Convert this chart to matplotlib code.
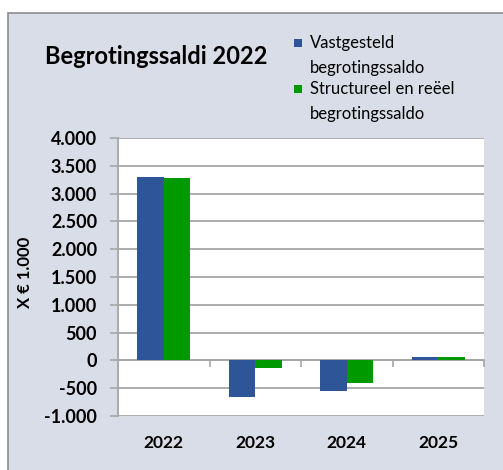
import matplotlib
matplotlib.use("Agg")
from matplotlib import pyplot as plt
from matplotlib.patches import Rectangle
import numpy as np

years = ["2022", "2023", "2024", "2025"]
vastgesteld = [3300, -665, -550, 65]
structureel = [3285, -130, -415, 65]
series_labels = ["Vastgesteld\nbegrotingssaldo", "Structureel en reëel\nbegrotingssaldo"]
yticks = [-1000, -500, 0, 500, 1000, 1500, 2000, 2500, 3000, 3500, 4000]
ytick_labels = ["-1.000", "-500", "0", "500", "1.000", "1.500", "2.000",
                "2.500", "3.000", "3.500", "4.000"]

plt.rcParams["font.family"] = ["Lato", "DejaVu Sans"]

BLUE = "#2E5597"
GREEN = "#009A00"
BG = "#D8DDE7"
GRID = "#A6A6A6"

fig = plt.figure(figsize=(5.03, 4.70), dpi=100, facecolor="white")

# chart area with gray border
fig.patches.append(Rectangle((8 / 503, -0.05), 1.1, 1 - 13 / 470 + 0.05,
                             transform=fig.transFigure, facecolor=BG,
                             edgecolor="#8C8C8C", linewidth=1.2, zorder=-5))

ax = fig.add_axes([118 / 503, 1 - 416 / 470, 366 / 503, 278 / 470])
ax.set_facecolor("white")

x = np.arange(len(years))
w = 0.289
ax.bar(x - w / 2, vastgesteld, w, color=BLUE, zorder=3)
ax.bar(x + w / 2, structureel, w, color=GREEN, zorder=3)

ax.set_xlim(-0.5, 3.5)
ax.set_ylim(-1000, 4000)
ax.set_yticks(yticks)
ax.set_yticklabels(ytick_labels, fontsize=13, fontweight="bold")
ax.yaxis.grid(True, color=GRID, linewidth=1.3, zorder=0)
ax.set_axisbelow(True)

for s in ["top", "right", "bottom"]:
    ax.spines[s].set_visible(False)
ax.spines["left"].set_color(GRID)
ax.spines["left"].set_linewidth(1.3)
ax.tick_params(axis="y", direction="out", length=6, width=1.2, color=GRID, pad=9)

ax.set_xticks(x)
ax.set_xticklabels(years, fontsize=12.5, fontweight="bold")
ax.tick_params(axis="x", length=0, pad=14)

# category axis crossing at zero
sec = ax.secondary_xaxis(0.2)
sec.set_xticks([0.5, 1.5, 2.5, 3.5])
sec.set_xticklabels([])
sec.spines["bottom"].set_color(GRID)
sec.spines["bottom"].set_linewidth(1.3)
sec.tick_params(direction="out", length=5, width=1.2, color=GRID)

ax.set_ylabel("X € 1.000", fontsize=12, fontweight="bold")
ax.yaxis.set_label_coords(-0.232, 0.518)

fig.text(45 / 503, 1 - 56 / 470, "Begrotingssaldi 2022", fontsize=17,
         fontweight="bold", va="center", ha="left")

# legend, square aligned with first line of each entry
for i, (lab, col) in enumerate(zip(series_labels, [BLUE, GREEN])):
    yc = 43 + 46 * i
    fig.patches.append(Rectangle((294 / 503, 1 - (yc + 4) / 470), 8 / 503, 8 / 470,
                                 transform=fig.transFigure, facecolor=col,
                                 edgecolor="none"))
    fig.text(310 / 503, 1 - (yc - 8) / 470, lab, fontsize=12, va="top",
             ha="left", linespacing=1.7)

plt.savefig("out.png", dpi=100, facecolor="white")
